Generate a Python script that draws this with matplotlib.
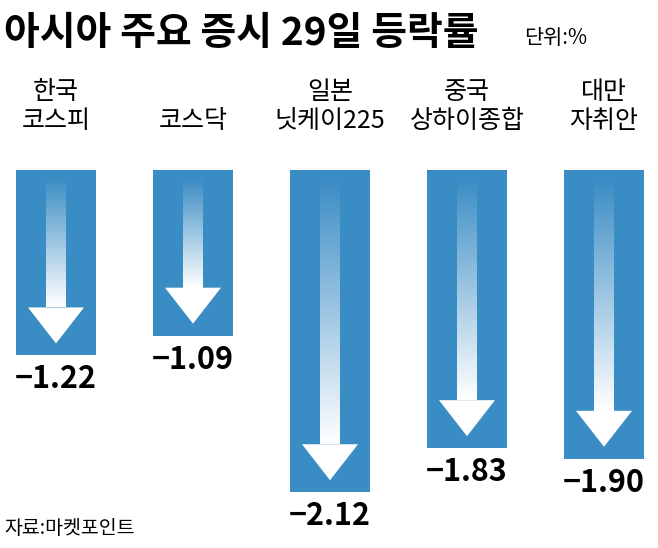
import matplotlib
matplotlib.use("Agg")
import matplotlib.pyplot as plt
import numpy as np
from matplotlib.colors import to_rgb

plt.rcParams['font.family'] = ['Noto Sans CJK KR', 'DejaVu Sans']

categories = ["한국\n코스피", "코스닥", "일본\n닛케이225", "중국\n상하이종합", "대만\n자취안"]
values = [-1.22, -1.09, -2.12, -1.83, -1.90]
labels = ["−1.22", "−1.09", "−2.12", "−1.83", "−1.90"]

W, H = 658, 548
fig = plt.figure(figsize=(W/100, H/100), dpi=100)
ax = fig.add_axes([0, 0, 1, 1])
ppu = 152.0  # pixels per unit
sp = 137.0
ax.axis('off')

blue = "#3a8cc4"
bw = 80/sp
ax.bar(range(len(values)), values, width=bw, color=blue, bottom=0, zorder=1)

brgb = np.array(to_rgb(blue))
for i, v in enumerate(values):
    tip = v + 12/ppu
    head_h = 36/ppu
    sw = 20/sp
    top = -8/ppu
    n = 100
    t = np.linspace(0, 1, n)[:, None]
    img = np.zeros((n, 1, 3))
    img[:, 0, :] = brgb*(1-t) + np.array([1, 1, 1])*t
    ax.imshow(img, extent=[i-sw/2, i+sw/2, tip+head_h, top], aspect='auto', zorder=2, interpolation='bilinear')
    hw = 56/sp
    ax.fill([i-hw/2, i+hw/2, i], [tip+head_h, tip+head_h, tip], color='white', zorder=3, lw=0)
    ax.text(i, v - 8/ppu, labels[i], ha='center', va='top', fontsize=22, fontweight='bold', zorder=4)
    ax.text(i, 36/ppu, categories[i], ha='center', va='bottom', fontsize=18, linespacing=1.15)

ax.set_xlim(-56/sp, (W-56)/sp)
ax.set_ylim(-(H-170)/ppu, 170/ppu)
fig.text(4/W, 1-34/H, "아시아 주요 증시 29일 등락률", fontsize=28, fontweight='bold', va='center', ha='left')
fig.text(524/W, 1-38/H, "단위:%", fontsize=15, va='center', ha='left')
fig.text(4/W, 1-528/H, "자료:마켓포인트", fontsize=14, va='center', ha='left')
fig.savefig("out.png", dpi=100)
